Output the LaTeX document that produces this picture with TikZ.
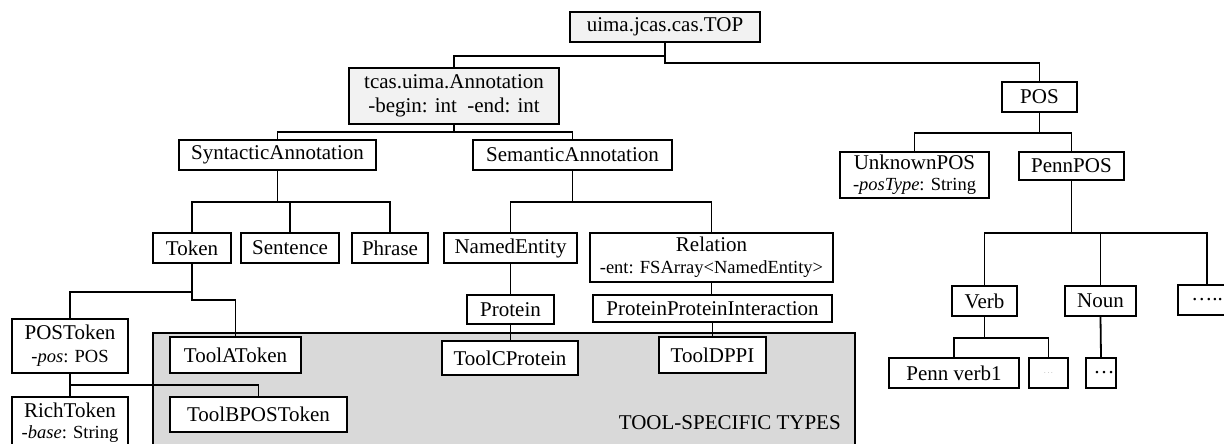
\documentclass[tikz,border=0pt]{standalone}
\usepackage{fontspec}
\setmainfont{Liberation Serif}
\newcommand{\sub}[1]{{\fontsize{18.5}{22}\selectfont #1}}
\begin{document}
\begin{tikzpicture}[x=1pt, y=-1pt, line width=1.8pt,
	typebox/.style={draw, fill=white, inner sep=0pt, align=center, minimum height=30pt, font=\fontsize{21}{24}\selectfont},
	rootbox/.style={typebox, fill=gray!10}]
	\useasboundingbox (0,0) rectangle (1224,444);
	\clip (0,0) rectangle (1224,444);
	\fill[gray!30] (153,333) rectangle (855,460);
	\draw (153,460) -- (153,333) -- (855,333) -- (855,460);
	\node[anchor=base east, font=\fontsize{21}{24}\selectfont] (tooltypes) at (845,429) {TOOL-SPECIFIC TYPES};

	\node[rootbox, minimum width=190pt] (top) at (665,27) {uima.jcas.cas.TOP};
	\node[rootbox, minimum width=210pt, minimum height=56pt] (anno) at (454,96) {tcas.uima.Annotation\\-begin: int\ \ -end: int};
	\node[typebox, minimum width=197pt] (synt) at (277.5,155) {SyntacticAnnotation};
	\node[typebox, minimum width=199pt] (sem) at (572.5,155) {SemanticAnnotation};
	\node[typebox, minimum width=78pt] (token) at (192,248) {Token};
	\node[typebox, minimum width=98pt] (sent) at (290,248) {Sentence};
	\node[typebox, minimum width=76pt] (phrase) at (390,248) {Phrase};
	\node[typebox, minimum width=133pt] (ne) at (510.5,248) {NamedEntity};
	\node[typebox, minimum width=243pt, minimum height=49pt] (rel) at (711.5,257.5) {Relation\\[-2pt]\sub{-ent: FSArray<NamedEntity>}};
	\node[typebox, minimum width=87pt, minimum height=29pt] (prot) at (510.5,309.5) {Protein};
	\node[typebox, minimum width=239pt, minimum height=27pt] (ppi) at (712.5,308.5) {ProteinProteinInteraction};
	\node[typebox, minimum width=136pt, minimum height=34pt] (toolc) at (510,358) {ToolCProtein};
	\node[typebox, minimum width=107pt, minimum height=36pt] (toold) at (712.5,355) {ToolDPPI};
	\node[typebox, minimum width=116pt, minimum height=54pt] (postok) at (70,346) {POSToken\\[-1pt]\sub{-\textit{pos}: POS}};
	\node[typebox, minimum width=131pt, minimum height=36pt] (toola) at (235.5,355) {ToolAToken};
	\node[typebox, minimum width=116pt, minimum height=52pt] (rich) at (70,423) {RichToken\\[-3pt]\sub{-\textit{base}: String}};
	\node[typebox, minimum width=177pt, minimum height=35pt] (toolb) at (258.5,414.5) {ToolBPOSToken};

	\node[typebox, minimum width=75pt] (pos) at (1039.5,97) {POS};
	\node[typebox, minimum width=149pt, minimum height=46pt] (unk) at (914.5,175) {UnknownPOS\\[-3pt]\sub{-\textit{posType}: String}};
	\node[typebox, minimum width=105pt, minimum height=28pt] (penn) at (1071.5,166) {PennPOS};
	\node[typebox, minimum width=65pt] (verb) at (984.5,301) {Verb};
	\node[typebox, minimum width=71pt] (noun) at (1100.5,301) {Noun};
	\node[typebox, minimum width=58pt] (more) at (1207,300) {…..};
	\node[typebox, minimum width=130pt] (pv1) at (954,373) {Penn verb1};
	\node[typebox, minimum width=39pt] (dots1) at (1048.5,373) {\tiny$\cdots$};
	\node[typebox, minimum width=30pt] (dots2) at (1101,373) {\hspace*{6pt}…};

	\draw (top.south) -- ++(0,13) -| (anno.north);
	\draw (top.south) -- ++(0,20) -| (pos.north);
	\draw (anno.south) -- ++(0,7) -| (synt.north);
	\draw (anno.south) -- ++(0,7) -| (sem.north);
	\draw (synt.south) -- ++(0,31) -| (token.north);
	\draw (synt.south) -- ++(0,31) -| (sent.north);
	\draw (synt.south) -- ++(0,31) -| (phrase.north);
	\draw (sem.south) -- ++(0,31) -| (ne.north);
	\draw (sem.south) -- ++(0,31) -| (rel.north);
	\draw (ne.south) -- (prot.north);
	\draw (rel.south) -- (rel.south |- ppi.north);
	\draw (prot.south) -- (prot.south |- toolc.north);
	\draw (ppi.south) -- (toold.north);
	\draw (token.south) -- ++(0,28) -| (postok.north);
	\draw (token.south) -- ++(0,36) -| (toola.north);
	\draw (postok.south) -- (rich.north);
	\draw (postok.south) -- ++(0,11) -| (toolb.north);
	\draw (pos.south) -- ++(0,20) -| (unk.north);
	\draw (pos.south) -- ++(0,20) -| (penn.north);
	\draw (penn.south) -- ++(0,52) -| (verb.north);
	\draw (penn.south) -- ++(0,52) -| (noun.north);
	\draw (penn.south) -- ++(0,52) -| (more.north);
	\draw (verb.south) -- ++(0,21) -| (pv1.north);
	\draw (verb.south) -- ++(0,21) -| (dots1.north);
	\draw (noun.south) -- (dots2.north);
\end{tikzpicture}
\end{document}
